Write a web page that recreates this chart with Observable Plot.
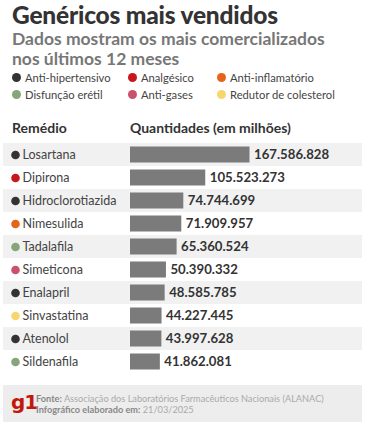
<!DOCTYPE html>
<html><head><meta charset="utf-8">
<script src="https://cdn.jsdelivr.net/npm/d3@7"></script>
<script src="https://cdn.jsdelivr.net/npm/@observablehq/plot@0.6"></script>
<style>
body{margin:0;background:#fff;font-family:Lato,"Open Sans",sans-serif;}
#wrap{position:relative;width:371px;height:433px;overflow:hidden;}
.abs{position:absolute;}
#title{left:12px;top:2px;font-size:24.5px;line-height:26px;font-weight:900;color:#333;letter-spacing:-0.2px;white-space:nowrap;}
#sub{left:12px;top:29px;font-size:17.5px;font-weight:700;color:#777;line-height:19.5px;}
.leg{font-size:11.2px;color:#444;white-space:nowrap;display:flex;align-items:center;}
.leg i{display:inline-block;width:9px;height:9px;border-radius:50%;margin-right:4px;}
.hdr{top:119px;font-size:14px;font-weight:700;color:#333;}
#chart{left:0;top:139px;}
#foot{left:3px;top:385px;width:359px;height:37px;background:#ededed;}
#g1{left:8px;top:5px;font-family:"DejaVu Sans",sans-serif;font-size:20px;line-height:24px;font-weight:700;color:#c4170c;letter-spacing:-1px;}
#ft{left:33px;top:8px;font-size:9.2px;line-height:11px;color:#aaa;white-space:nowrap;}
#ft b{color:#888;}
</style></head>
<body><div id="wrap">
<div id="title" class="abs">Genéricos mais vendidos</div>
<div id="sub" class="abs">Dados mostram os mais comercializados<br>nos últimos 12 meses</div>
<div id="legend"></div>
<div class="abs hdr" style="left:12px">Remédio</div>
<div class="abs hdr" style="left:130px">Quantidades (em milhões)</div>
<div id="chart" class="abs"></div>
<div id="foot" class="abs">
  <div id="g1" class="abs">g1</div>
  <div id="ft" class="abs"><b>Fonte:</b> Associação dos Laboratórios Farmacêuticos Nacionais (ALANAC)<br><b>Infográfico elaborado em:</b> 21/03/2025</div>
</div>
</div>
<script>
const remedios = ["Losartana","Dipirona","Hidroclorotiazida","Nimesulida","Tadalafila","Simeticona","Enalapril","Sinvastatina","Atenolol","Sildenafila"];
const quantidades = [167586828,105523273,74744699,71909957,65360524,50390332,48585785,44227445,43997628,41862081];
const classes = ["Anti-hipertensivo","Analgésico","Anti-hipertensivo","Anti-inflamatório","Disfunção erétil","Anti-gases","Anti-hipertensivo","Redutor de colesterol","Anti-hipertensivo","Disfunção erétil"];
const categorias = ["Anti-hipertensivo","Analgésico","Anti-inflamatório","Disfunção erétil","Anti-gases","Redutor de colesterol"];
const cores = ["#333333","#c8161d","#e4641c","#86a57a","#c9516b","#f8d66e"];

const data = remedios.map((r,i)=>({remedio:r, q:quantidades[i], classe:classes[i]}));
const fmt = d3.formatLocale({decimal:",",thousands:".",grouping:[3],currency:["R$",""]}).format(",d");

// legend
const legPos = [[12,71],[128,71],[217,71],[12,88],[128,88],[217,88]];
const legend = document.getElementById("legend");
categorias.forEach((c,i)=>{
  const d = document.createElement("div");
  d.className="abs leg";
  d.style.left=legPos[i][0]+"px"; d.style.top=legPos[i][1]+"px";
  d.innerHTML=`<i style="background:${cores[i]}"></i>${c}`;
  legend.appendChild(d);
});

const chart = Plot.plot({
  width:371, height:238,
  marginLeft:3, marginRight:9, marginTop:0, marginBottom:0,
  style:{fontFamily:"Lato, 'Open Sans', sans-serif", background:"transparent"},
  x:{domain:[0,d3.max(quantidades)], range:[130,249.5], axis:null},
  y:{domain:remedios, axis:null, padding:0},
  color:{domain:categorias, range:cores},
  marks:[
    Plot.cell(data.filter((d,i)=>i%2===0), {y:"remedio", fill:"#f1f1f1"}),
    Plot.barX(data, {x:"q", y:"remedio", fill:"#7b7b7b", insetTop:3.5, insetBottom:3.5}),
    Plot.dot(data, {y:"remedio", fill:"classe", r:4.3, frameAnchor:"left", dx:12}),
    Plot.text(data, {y:"remedio", text:"remedio", frameAnchor:"left", dx:19, textAnchor:"start", fontSize:12.5, fill:"#444"}),
    Plot.text(data, {x:"q", y:"remedio", text:d=>fmt(d.q), dx:4, textAnchor:"start", fontSize:13.2, fontWeight:"bold", fill:"#333"})
  ]
});
document.getElementById("chart").appendChild(chart);
</script>
</body></html>
